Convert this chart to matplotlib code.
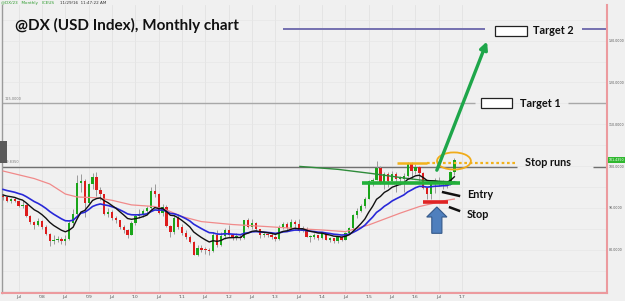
import numpy as np
import matplotlib
matplotlib.use("Agg")
import matplotlib.pyplot as plt
from matplotlib.patches import Ellipse, Rectangle

# monthly bars, index 0 = Mar 2007 ... index 116 = Nov 2016
first_open = 92.9
closes = [92.5, 91.6, 92.0, 91.7, 90.5, 90.6, 88.0, 86.6, 86.0, 86.8,
          85.3, 83.8, 82.0, 82.4, 82.6, 82.1, 82.6, 86.4, 88.6, 96.0,
          96.5, 91.2, 95.6, 97.4, 94.2, 93.2, 88.6, 89.0, 87.5, 87.0,
          85.4, 84.8, 83.6, 86.4, 88.0, 88.6, 89.2, 89.9, 94.0, 93.4,
          88.8, 90.2, 85.6, 84.2, 87.6, 85.4, 84.0, 83.0, 81.8, 78.8,
          80.4, 80.0, 79.8, 79.6, 83.5, 81.2, 83.2, 84.8, 83.6, 83.0,
          83.1, 82.8, 87.0, 85.4, 86.3, 84.9, 83.5, 83.6, 83.5, 83.1,
          82.6, 85.5, 86.1, 85.1, 86.5, 86.2, 84.5, 85.0, 83.1, 83.1,
          83.5, 82.8, 83.9, 82.4, 82.7, 82.0, 82.9, 82.3, 84.0, 85.2,
          88.3, 89.2, 90.5, 92.2, 96.3, 96.7, 99.6, 95.8, 98.0, 96.5,
          98.2, 96.8, 97.0, 97.6, 100.6, 98.9, 99.8, 98.4, 94.8, 93.3,
          96.1, 96.2, 95.6, 96.1, 95.5, 98.5, 101.4]
highs = [93.4, 92.7, 92.4, 92.6, 91.9, 91.8, 90.9, 88.3, 86.9, 87.5,
         87.2, 85.8, 84.0, 83.5, 83.3, 83.1, 83.4, 86.9, 89.7, 97.8,
         98.2, 97.0, 96.0, 98.3, 98.6, 95.0, 93.3, 89.9, 89.4, 88.0,
         87.2, 85.9, 85.0, 86.8, 88.5, 89.8, 89.6, 90.4, 95.0, 95.6,
         93.6, 90.9, 90.6, 86.0, 88.3, 88.6, 86.2, 84.6, 83.4, 82.0,
         81.2, 81.0, 80.6, 80.4, 84.2, 84.6, 84.2, 85.2, 86.0, 83.8,
         84.0, 83.6, 87.2, 87.5, 87.4, 86.6, 85.0, 84.1, 84.0, 84.0,
         83.5, 85.8, 86.6, 86.6, 87.4, 87.0, 87.3, 85.6, 85.4, 83.6,
         84.0, 83.6, 84.3, 84.0, 83.0, 82.8, 83.1, 83.1, 84.2, 85.4,
         88.5, 89.9, 90.8, 92.5, 96.6, 97.1, 101.3, 100.1, 98.5, 98.5,
         98.8, 98.6, 97.6, 98.3, 100.9, 100.9, 100.4, 100.0, 98.6, 95.0,
         96.2, 97.2, 97.4, 96.6, 96.4, 98.7, 102.0]
lows = [91.9, 91.3, 91.2, 91.3, 90.2, 90.0, 87.7, 86.2, 85.0, 85.7,
        84.9, 83.5, 80.8, 81.3, 81.8, 81.4, 81.1, 82.3, 85.9, 88.2,
        93.8, 87.8, 90.8, 94.6, 92.8, 91.8, 88.3, 87.8, 87.0, 86.4,
        85.0, 84.0, 82.8, 83.4, 86.0, 87.6, 87.9, 88.7, 89.6, 92.6,
        88.5, 88.1, 85.4, 82.9, 83.8, 85.0, 83.6, 82.6, 81.5, 78.6,
        78.4, 79.4, 79.0, 78.8, 79.4, 80.6, 80.8, 82.6, 83.0, 82.2,
        82.4, 82.2, 82.6, 85.2, 85.0, 84.5, 82.8, 82.9, 83.0, 82.6,
        82.0, 82.4, 85.0, 84.4, 84.8, 84.8, 84.2, 84.1, 82.9, 81.9,
        82.6, 82.2, 82.6, 82.2, 81.9, 81.6, 81.6, 82.0, 82.2, 83.8,
        85.0, 87.5, 88.9, 90.0, 92.0, 95.2, 96.6, 95.6, 94.5, 95.0,
        95.8, 93.8, 95.4, 93.9, 97.4, 97.0, 98.2, 96.5, 94.6, 92.2,
        92.2, 93.5, 95.2, 94.6, 94.7, 95.4, 97.9]

# slow averages: (month index, value)
pink_x = [0, 8, 12, 16, 19, 24, 28, 33, 39, 42, 46, 51, 59, 68, 76, 82, 88, 94, 102, 107, 114, 116]
pink_y = [98.8, 97.0, 95.7, 93.3, 92.6, 92.4, 91.8, 90.7, 90.3, 89.5, 87.9, 86.7, 86.0, 85.5, 85.0,
          84.7, 84.3, 85.9, 88.7, 90.3, 91.8, 92.1]
green_x = [76.3, 86.1, 94.8, 103.3, 107.7, 115.4, 116.5]
green_y = [99.9, 99.2, 98.2, 97.1, 96.6, 96.2, 96.1]

tick_months = list(range(4, 119, 6))
tick_labels = ["Jul", "'08", "Jul", "'09", "Jul", "'10", "Jul", "'11", "Jul", "'12",
               "Jul", "'13", "Jul", "'14", "Jul", "'15", "Jul", "'16", "Jul", "'17"]
price_ticks = [80, 90, 100, 110, 120, 130]

target1 = 115.0
target2 = 132.8
level_line = 99.85
stop_run_level = 100.7
support_level = 95.85
stop_level = 91.45
last_price = 101.435


def ema(values, span, seed):
    a = 2.0 / (span + 1)
    m = seed
    out = []
    for v in values:
        m = m + a * (v - m)
        out.append(m)
    return np.array(out)


bg = "#f0f0f0"
fig = plt.figure(figsize=(6.25, 3.01), dpi=100, facecolor=bg)
ax = fig.add_axes([2 / 625, 8 / 301, 605 / 625, 288 / 301], facecolor=bg)

months = np.arange(len(closes))
closes = np.array(closes)
opens = np.concatenate([[first_open], closes[:-1]])
highs = np.array(highs)
lows = np.array(lows)

# grid
for t in tick_months:
    ax.axvline(t, color="#e2e2e2", lw=0.6, zorder=0)
for p in range(70, 140, 5):
    ax.axhline(p, color="#e6e6e6", lw=0.5, zorder=0)

# candles
up = closes >= opens
ax.vlines(months, lows, highs, color="#9a9a9a", lw=0.7, zorder=2)
body_lo = np.minimum(opens, closes)
body_h = np.maximum(np.abs(closes - opens), 0.25)
ax.bar(months, body_h, bottom=body_lo, width=0.6,
       color=np.where(up, "#1aa51a", "#dd1c1c"), lw=0, zorder=3)

# averages
ax.plot(pink_x, pink_y, color="#f08a8a", lw=0.9, zorder=4)
ax.plot(green_x, green_y, color="#2e8b3a", lw=1.0, zorder=4)
ax.plot(months, ema(closes, 20, 94.6), color="#2828d8", lw=1.2, zorder=5)
ax.plot(months, ema(closes, 10, 93.2), color="#111111", lw=1.0, zorder=6)

# horizontal levels
ax.hlines(target2, 72.0, 123.9, color="#7470b0", lw=1.4, zorder=1)
ax.hlines(target2, 148.8, 156, color="#7470b0", lw=1.4, zorder=1)
ax.hlines(target1, -1, 121.3, color="#a8a8a8", lw=1.0, zorder=1)
ax.hlines(target1, 145.2, 156, color="#a8a8a8", lw=1.0, zorder=1)
ax.hlines(level_line, -1, 132.1, color="#707070", lw=1.0, zorder=1)
ax.hlines(level_line, 151.6, 156, color="#707070", lw=1.0, zorder=1)
ax.text(0.5, target1 + 0.6, "115.0000", fontsize=2.5, color="#777777", va="bottom")
ax.text(0.5, level_line + 0.6, "99.8350", fontsize=2.5, color="#777777", va="bottom")

# trade annotations
ax.hlines(stop_run_level, 101.3, 109.0, color="#f2b21c", lw=1.8, zorder=7)
ax.hlines(stop_run_level, 109.0, 132.1, color="#f2b21c", lw=1.6,
          linestyles=(0, (1.2, 1.2)), zorder=7)
ax.add_patch(Ellipse((115.9, 101.2), 8.7, 4.1, fill=False, ec="#f0ac1a", lw=1.3, zorder=8))
ax.hlines(support_level, 92.3, 117.5, color="#22b03a", lw=2.6, zorder=7)
ax.hlines(stop_level, 107.9, 114.4, color="#e02424", lw=2.6, zorder=7)
ax.arrow(111.5, 83.9, 0, 6.3, width=2.6, head_width=5.2, head_length=2.4,
         length_includes_head=True, fc="#4f7fbd", ec="#34598a", lw=0.8, zorder=8)
ax.annotate("", xy=(124.4, 129.8), xytext=(111.5, 99.0),
            arrowprops=dict(arrowstyle="-|>", color="#1ea64a", lw=2.4,
                            mutation_scale=11, shrinkA=0, shrinkB=0), zorder=8)
ax.plot([112.8, 117.5], [93.8, 92.8], color="#111111", lw=1.8, solid_capstyle="butt", zorder=8)
ax.plot([114.6, 117.5], [90.2, 89.2], color="#111111", lw=1.8, solid_capstyle="butt", zorder=8)

lab = dict(fontsize=7.8, fontweight="bold", family=["Lato", "DejaVu Sans"],
           color="#111111", va="center", ha="left", zorder=9)
ax.add_patch(Rectangle((126.5, 131.2), 8.2, 2.4, fc="white", ec="#222222", lw=0.9, zorder=9))
ax.add_patch(Rectangle((122.9, 113.9), 7.9, 2.4, fc="white", ec="#222222", lw=0.9, zorder=9))
ax.text(136.2, 132.4, "Target 2", **lab)
ax.text(132.9, 114.9, "Target 1", **lab)
ax.text(134.2, 100.8, "Stop runs", **lab)
ax.text(119.3, 93.1, "Entry", **lab)
ax.text(119.3, 88.5, "Stop", **lab)

# axes
ax.set_xlim(-0.28, 155.24)
ax.set_ylim(69.62, 138.52)
ax.set_xticks(tick_months)
ax.set_xticklabels(tick_labels)
ax.set_yticks(price_ticks)
ax.set_yticklabels([f"{p:.4f}" for p in price_ticks])
ax.yaxis.tick_right()
ax.tick_params(axis="both", length=0, colors="#555555")
ax.tick_params(axis="x", pad=1.5, labelsize=3.2)
ax.tick_params(axis="y", pad=1.5, labelsize=2.3)
ax.spines["top"].set_visible(False)
ax.spines["left"].set_color("#9a9a9a")
ax.spines["left"].set_linewidth(1.0)
for s in ("bottom", "right"):
    ax.spines[s].set_color("#ec9a9e")
    ax.spines[s].set_linewidth(1.5)

ax.annotate(f"{last_price:.4f}", xy=(1, last_price), xycoords=("axes fraction", "data"),
            xytext=(1.2, 0), textcoords="offset points", fontsize=2.3, color="#ffffff",
            va="center", ha="left", annotation_clip=False,
            bbox=dict(boxstyle="square,pad=0.25", fc="#2fb82f", ec="none"))

fig.add_artist(Rectangle((0, 138 / 301), 7 / 625, 22 / 301, transform=fig.transFigure,
                         fc="#5a5a5a", ec="none"))

# headers
fig.text(1 / 625, 1 - 3 / 301, "@DX/23   Monthly   ICEUS", fontsize=3, color="#2a9a2a",
         va="center", ha="left")
fig.text(60 / 625, 1 - 3 / 301, "11/29/16  11:47:22 AM", fontsize=3, color="#333333",
         va="center", ha="left")
fig.text(15 / 625, 1 - 25 / 301, "@DX (USD Index), Monthly chart", fontsize=11,
         fontweight="bold", family=["Lato", "DejaVu Sans"], color="#111111",
         va="center", ha="left")

fig.savefig("out.png", dpi=100, facecolor=bg)
